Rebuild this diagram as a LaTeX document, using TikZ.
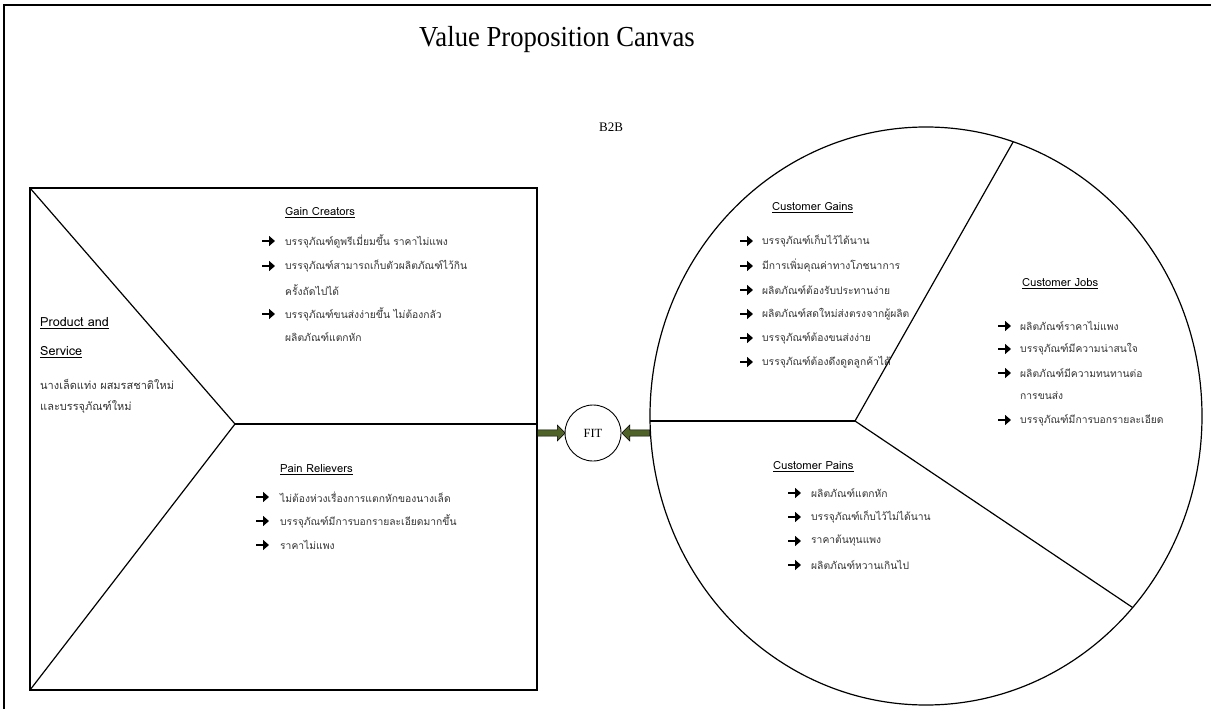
\documentclass[tikz,border=0pt]{standalone}
\usepackage{fontspec}
\setmainfont{Liberation Serif}
\newfontfamily\thaifont[Script=Thai]{Loma}
\usetikzlibrary{positioning,shapes.arrows,intersections,arrows.meta}

\definecolor{fitgreen}{RGB}{79,98,40}

\tikzset{
  heading/.style={anchor=west, inner sep=0pt, font=\thaifont\fontsize{11.2}{13}\selectfont},
  item/.style={anchor=west, inner sep=0pt, text=black!80, font=\thaifont\fontsize{10.3}{12}\selectfont},
  bulletarrow/.style={line width=2.6pt, -{Triangle[width=10pt,length=6pt]}},
  canvasline/.style={line width=1.2pt},
  fitarrow/.style={single arrow, draw=black, fill=fitgreen, line width=0.6pt,
    minimum width=16pt, minimum height=28pt, single arrow head extend=3.5pt, inner sep=2pt}
}

\begin{document}
\begin{tikzpicture}[x=1pt,y=-1pt]
    \useasboundingbox (0,0) rectangle (1211,709);

    % Page frame
    \draw[line width=2pt] (4,709) -- (4,5) -- (1211,5);

    % Title
    \node[font=\fontsize{29}{32}\selectfont, xscale=0.92] (title) at (557,40) {Value Proposition Canvas};
    \node[font=\fontsize{13}{15}\selectfont] (btob) at (611,127) {B2B};

    % Value map (square)
    \coordinate (sq-nw) at (30,188);
    \coordinate (sq-se) at (537,690);
    \coordinate (sq-tip) at (235,424);
    \draw[canvasline] (sq-nw) rectangle (sq-se);
    \draw[canvasline] (sq-nw) -- (sq-tip) -- (30,690);
    \draw[canvasline] (sq-tip) -- (sq-tip -| sq-se);

    % Customer profile (circle)
    \draw[canvasline, name path=profile] (926,416) ellipse [x radius=276, y radius=289];
    \coordinate (cp-mid) at (855,421);
    \path[name path=rayup] (cp-mid) -- ++(170,-300);
    \path[name path=raydown] (cp-mid) -- ++(320,215);
    \path[name intersections={of=profile and rayup, by=cp-up}];
    \path[name intersections={of=profile and raydown, by=cp-down}];
    \draw[canvasline] (cp-up) -- (cp-mid) -- (cp-down);
    \draw[canvasline] (cp-mid) -- (650,421);

    % Fit
    \node[circle, draw, line width=0.9pt, minimum size=56pt, font=\fontsize{12.5}{14}\selectfont] (fit) at (593,433) {FIT};
    \node[fitarrow, anchor=tail] (arrL) at (537,433) {};
    \node[fitarrow, shape border rotate=180, anchor=tail] (arrR) at (650,433) {};

    % Product and Service
    \node[heading, font=\thaifont\fontsize{12.6}{14}\selectfont] (ps1) at (40,323) {\underline{Product and}};
    \node[heading, font=\thaifont\fontsize{12.6}{14}\selectfont] (ps2) at (40,352) {\underline{Service}};
    \node[item, font=\thaifont\fontsize{11}{13}\selectfont] (ps3) at (40,384) {นางเล็ดแท่ง ผสมรสชาติใหม่};
    \node[item, font=\thaifont\fontsize{11}{13}\selectfont] (ps4) at (40,407) {และบรรจุภัณฑ์ใหม่};

    % Gain Creators
    \node[heading] (gc) at (285,213) {\underline{Gain Creators}};
    \foreach \y in {241,266,314} {
      \draw[bulletarrow] (262,\y) -- ++(13,0);
    }
    \foreach \y/\t in {241/บรรจุภัณฑ์ดูพรีเมี่ยมขึ้น ราคาไม่แพง, 266/บรรจุภัณฑ์สามารถเก็บตัวผลิตภัณฑ์ไว้กิน, 290/ครั้งถัดไปได้, 314/บรรจุภัณฑ์ขนส่งง่ายขึ้น ไม่ต้องกลัว, 337/ผลิตภัณฑ์แตกหัก} {
      \node[item] (gct\y) at (285,\y) {\t};
    }

    % Pain Relievers
    \node[heading] (pr) at (280,470) {\underline{Pain Relievers}};
    \foreach \y in {497,521,545} {
      \draw[bulletarrow] (256,\y) -- ++(13,0);
    }
    \foreach \y/\t in {497/ไม่ต้องห่วงเรื่องการแตกหักของนางเล็ด, 521/บรรจุภัณฑ์มีการบอกรายละเอียดมากขึ้น, 545/ราคาไม่แพง} {
      \node[item] (prt\y) at (280,\y) {\t};
    }

    % Customer Gains
    \node[heading] (cg) at (772,208) {\underline{Customer Gains}};
    \foreach \y in {241,266,290,314,338,362} {
      \draw[bulletarrow] (740,\y) -- ++(13,0);
    }
    \foreach \y/\t in {241/บรรจุภัณฑ์เก็บไว้ได้นาน, 266/มีการเพิ่มคุณค่าทางโภชนาการ, 290/ผลิตภัณฑ์ต้องรับประทานง่าย, 314/ผลิตภัณฑ์สดใหม่ส่งตรงจากผู้ผลิต, 338/บรรจุภัณฑ์ต้องขนส่งง่าย, 362/บรรจุภัณฑ์ต้องดึงดูดลูกค้าได้} {
      \node[item] (cgt\y) at (762,\y) {\t};
    }

    % Customer Jobs
    \node[heading] (cj) at (1022,284) {\underline{Customer Jobs}};
    \foreach \y in {326,349,373,420} {
      \draw[bulletarrow] (998,\y) -- ++(13,0);
    }
    \foreach \y/\t in {326/ผลิตภัณฑ์ราคาไม่แพง, 349/บรรจุภัณฑ์มีความน่าสนใจ, 373/ผลิตภัณฑ์มีความทนทานต่อ, 396/การขนส่ง, 420/บรรจุภัณฑ์มีการบอกรายละเอียด} {
      \node[item] (cjt\y) at (1020,\y) {\t};
    }

    % Customer Pains
    \node[heading] (cpn) at (773,467) {\underline{Customer Pains}};
    \foreach \y in {493,517,541,565} {
      \draw[bulletarrow] (788,\y) -- ++(13,0);
    }
    \foreach \y/\t in {493/ผลิตภัณฑ์แตกหัก, 517/บรรจุภัณฑ์เก็บไว้ไม่ได้นาน, 541/ราคาต้นทุนแพง, 565/ผลิตภัณฑ์หวานเกินไป} {
      \node[item] (cpt\y) at (811,\y) {\t};
    }
\end{tikzpicture}
\end{document}
